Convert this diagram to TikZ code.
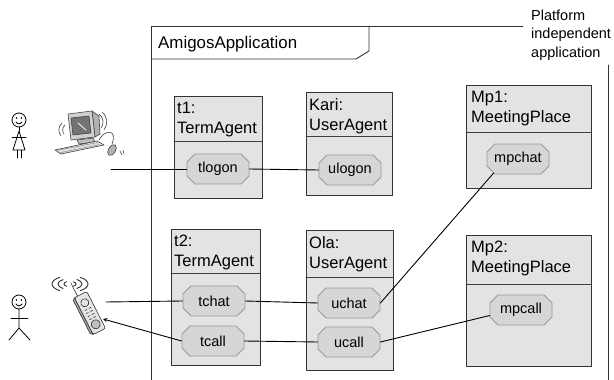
\documentclass[tikz,border=0pt]{standalone}
\usepackage{fontspec}
\setmainfont{Liberation Sans}
\usetikzlibrary{shapes.misc}

\begin{document}
\begin{tikzpicture}[x=1pt, y=-1pt, line join=round, line cap=round, >=stealth,
	agent/.style={draw=black!80, line width=1.3pt, fill=black!11, anchor=north west, inner sep=0},
	partname/.style={anchor=north west, inner sep=0, align=left, font=\fontsize{16.5}{20}\selectfont},
	port/.style={chamfered rectangle, chamfered rectangle xsep=4pt, chamfered rectangle ysep=4pt, draw=black!40, fill=black!16, line width=0.8pt,
		minimum width=62pt, minimum height=30pt, inner sep=0, font=\fontsize{14.5}{17}\selectfont},
	wire/.style={line width=0.9pt}]
		\useasboundingbox (0,0) rectangle (614,380);
		\begin{scope}[black!80, line width=0.9pt]
			\draw (151,380) -- (151,26) -- (523,26);
			\draw (151,59) -- (356,59) -- (369,51) -- (369,26);
			\draw (608,65) -- (608,380);
		\end{scope}
		\node[anchor=base west, inner sep=0, font=\fontsize{16.9}{20}\selectfont] (appname) at (158,48) {AmigosApplication};
		\node[anchor=north west, inner sep=0, align=left, font=\fontsize{14.5}{18.2}\selectfont] (platform) at (531,10) {Platform\\independent\\application};

		\node[agent, minimum width=88pt, minimum height=102pt] (t1) at (174,96) {};
		\node[agent, minimum width=86pt, minimum height=103pt] (kari) at (306,92) {};
		\node[agent, minimum width=125pt, minimum height=103pt] (mp1) at (466,85) {};
		\node[agent, minimum width=89pt, minimum height=136pt] (t2) at (171,229) {};
		\node[agent, minimum width=87pt, minimum height=140pt] (ola) at (306,230) {};
		\node[agent, minimum width=125pt, minimum height=131pt] (mp2) at (466,235) {};

		\node[partname] (t1name) at ([xshift=3pt,yshift=-6pt]t1.north west) {t1:\\TermAgent};
		\node[partname] (kariname) at ([xshift=3pt,yshift=-6pt]kari.north west) {Kari:\\UserAgent};
		\node[partname] (mp1name) at ([xshift=5pt,yshift=-6pt]mp1.north west) {Mp1:\\MeetingPlace};
		\node[partname] (t2name) at ([xshift=3pt,yshift=-6pt]t2.north west) {t2:\\TermAgent};
		\node[partname] (olaname) at ([xshift=3pt,yshift=-6pt]ola.north west) {Ola:\\UserAgent};
		\node[partname] (mp2name) at ([xshift=5pt,yshift=-6pt]mp2.north west) {Mp2:\\MeetingPlace};

		\begin{scope}[black!75, line width=0.8pt]
			\draw (174,141) -- (262,141);
			\draw (306,136) -- (392,136);
			\draw (466,132) -- (591,132);
			\draw (171,273) -- (260,273);
			\draw (306,277) -- (393,277);
			\draw (466,284) -- (591,284);
		\end{scope}

		\node[port] (tlogon) at (218,169) {tlogon};
		\node[port] (ulogon) at (350,170) {ulogon};
		\node[port] (mpchat) at (518,159) {mpchat};
		\node[port] (tchat) at (214,301) {tchat};
		\node[port] (uchat) at (349,303) {uchat};
		\node[port] (tcall) at (213,341) {tcall};
		\node[port] (ucall) at (349,342) {ucall};
		\node[port] (mpcall) at (521,310) {mpcall};

		\coordinate (pcline) at (111,169);
		\coordinate (phonein) at (106,302);
		\coordinate (phoneout) at (103,319);

		\draw[wire] (pcline) -- (tlogon.west);
		\draw[wire] (tlogon.east) -- (ulogon.west);
		\draw[wire] (phonein) -- (tchat.west);
		\draw[wire] (tchat.east) -- (uchat.west);
		\draw[wire,->] (tcall.west) -- (phoneout);
		\draw[wire] (tcall.east) -- (ucall.west);
		\draw[wire] (uchat.east) -- (mpchat.210);
		\draw[wire] (ucall.east) -- (mpcall.190);

		\begin{scope}[line width=0.8pt]
			\draw (19,120) circle (7);
			\fill (16.5,118) circle (0.8) (21.5,118) circle (0.8);
			\draw (16,122) .. controls (18,124.5) and (20,124.5) .. (22,122);
			\draw (19,127) -- (19,131);
			\draw (19,131) -- (13,150) -- (25,150) -- cycle;
			\draw (12,137) -- (26,137);
			\draw (17,150) -- (17,158) (21,150) -- (21,158);

			\draw (19,302) circle (7);
			\fill (16.5,300) circle (0.8) (21.5,300) circle (0.8);
			\draw (16,304) .. controls (18,306.5) and (20,306.5) .. (22,304);
			\draw (19,309) -- (19,328) -- (9,340) (19,328) -- (30,340);
			\draw (11,318) -- (28,318);
		\end{scope}

		\begin{scope}[black!75, line width=0.6pt]
			\filldraw[fill=black!30] (92,111) -- (99,116) -- (100,134) -- (95,137) -- cycle;
			\filldraw[fill=black!18] (68,114) -- (92,111) -- (95,137) -- (71,140) -- cycle;
			\filldraw[fill=black!55] (71,118) -- (89,116) -- (91,133) -- (73,135) -- cycle;
			\draw[white, line width=0.8pt] (78,123) -- (86,130);
			\filldraw[fill=black!25] (77,140) -- (93,138) -- (95,142) -- (79,144) -- cycle;
			\filldraw[fill=black!12] (55,150) -- (97,141) -- (104,145) -- (61,154) -- cycle;
			\draw[black!50, dash pattern=on 1pt off 1pt] (59,150) -- (98,142.5) (61,152.5) -- (100,144.5);
			\filldraw[fill=black!30, rotate around={-30:(112,150)}] (112,150) ellipse (3.5 and 6);
			\draw (99,140) .. controls (104,130) and (118,128) .. (112,144);
			\draw (62,123) .. controls (58,127) and (58,132) .. (61,136);
			\draw (65,125) .. controls (62,128) and (62,131) .. (64,134);
			\draw (99,114) .. controls (104,118) and (104,124) .. (101,128);
			\draw (102,112) .. controls (108,117) and (108,124) .. (104,130);
			\draw (120,151) -- (122,155) (123,150) -- (124,154);
		\end{scope}

		\begin{scope}[shift={(90,313)}, rotate=27, scale=1.15, black!80, line width=0.6pt]
			\filldraw[fill=black!35] (-8,-16) -- (-6,-18) -- (-6,18) -- (-8,16) -- cycle;
			\filldraw[fill=black!10, rounded corners=2pt] (-6,-18) rectangle (6,18);
			\draw (0,-10) circle (3.5);
			\filldraw[fill=black!25] (0,11) circle (4);
			\foreach \y in {-4,-1,2,5}
				\draw (-3,\y) -- (-1,\y) (1,\y) -- (3,\y);
			\draw (-3,-18) -- (-3,-31);
		\end{scope}
		\begin{scope}[black!80, line width=0.9pt]
			\foreach \r in {6,12,18} {
				\draw (70,284) ++(125:{\r} and {0.45*\r}) arc (125:235:{\r} and {0.45*\r});
				\draw (70,284) ++(-55:{\r} and {0.45*\r}) arc (-55:55:{\r} and {0.45*\r});
			}
		\end{scope}
	\end{tikzpicture}
\end{document}
